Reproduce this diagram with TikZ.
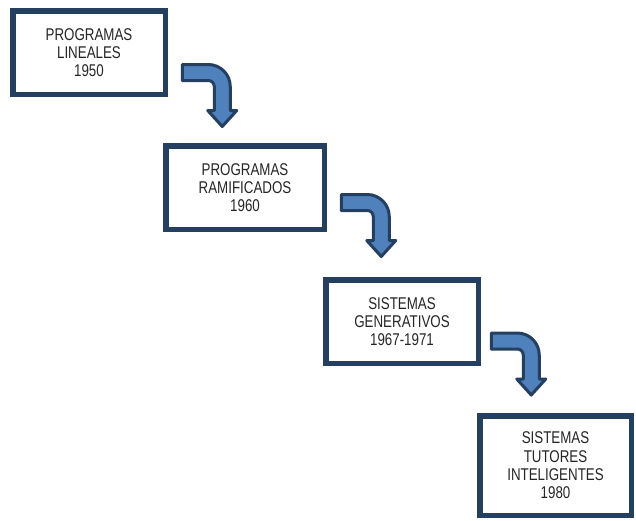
\documentclass[tikz,border=0pt]{standalone}
\usepackage{fontspec}
\setmainfont{Liberation Sans}
\newfontfamily\narrowfont[FakeStretch=0.785]{Liberation Sans}
\usetikzlibrary{calc}
\definecolor{navy}{RGB}{36,63,96}
\definecolor{arrowblue}{RGB}{79,129,189}

\begin{document}
\begin{tikzpicture}[x={(1pt,0pt)},y={(0pt,-1pt)},
  stage/.style={draw=navy, line width=5.5pt, fill=white, align=center, inner sep=0pt, font=\narrowfont\fontsize{17}{18.3}\selectfont, text=black!85},
  bentarrow/.pic={
    \draw[fill=arrowblue, draw=navy, line width=3pt, line join=round]
      (0,-8) -- (26,-8) arc[start angle=-90, end angle=0, radius=22] -- (48,38) -- (54.5,38) -- (40,54) -- (25.5,38) -- (32,38)
      -- (32,14) arc[start angle=0, end angle=-90, radius=6] -- (0,8) -- cycle;
  }]
\useasboundingbox (0,0) rectangle (636,520);
\node[stage, minimum width=152.5pt, minimum height=83.5pt] (lineales) at (89,52.5) {PROGRAMAS\\LINEALES\\1950};
\node[stage, minimum width=158.5pt, minimum height=83.5pt] (ramificados) at (245,187.5) {PROGRAMAS\\RAMIFICADOS\\1960};
\node[stage, minimum width=152.5pt, minimum height=83.5pt] (generativos) at (402,321.5) {SISTEMAS\\GENERATIVOS\\1967-1971};
\node[stage, minimum width=151.5pt, minimum height=99.5pt] (tutores) at (555.5,465.5) {SISTEMAS\\TUTORES\\INTELIGENTES\\1980};
% bent arrows between the stages
\pic (a1) at ($(lineales.east)+(14.25,20)$) {bentarrow};
\pic (a2) at ($(ramificados.east)+(14.25,15)$) {bentarrow};
\pic (a3) at ($(generativos.east)+(10.25,19.5)$) {bentarrow};
\end{tikzpicture}
\end{document}
